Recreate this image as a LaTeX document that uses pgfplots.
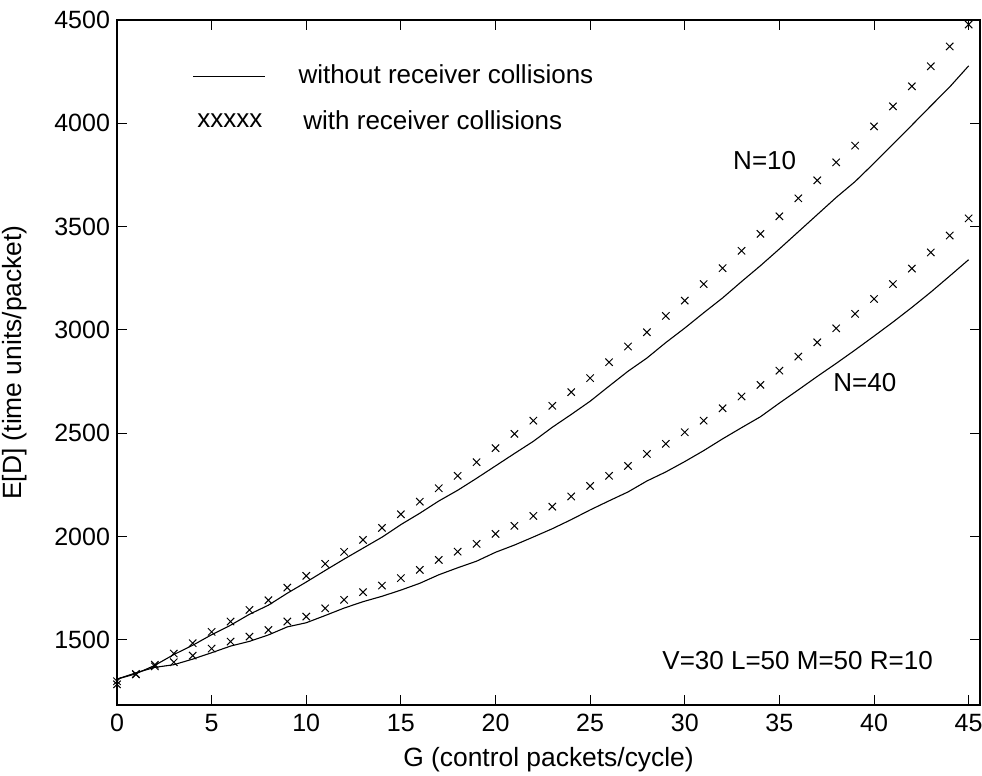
\documentclass[border=0pt]{standalone}
\usepackage{pgfplots}
\pgfplotsset{compat=1.18}
\usepackage{pgfplotstable}
\usepackage{fontspec}
\setmainfont{Liberation Sans}

\pgfplotstableread{
x y
0 1300
1 1335
2 1380
3 1434
4 1484
5 1539
6 1589
7 1645
8 1692
9 1753
10 1810
11 1868
12 1926
13 1984
14 2042
15 2108
16 2169
17 2234
18 2294
19 2360
20 2428
21 2497
22 2561
23 2633
24 2699
25 2767
26 2844
27 2920
28 2989
29 3068
30 3142
31 3222
32 3299
33 3383
34 3465
35 3550
36 3637
37 3724
38 3811
39 3892
40 3985
41 4082
42 4179
43 4276
44 4372
45 4478
}\tenwith

\pgfplotstableread{
x y
0 1310
1 1336
2 1377
3 1429
4 1474
5 1525
6 1571
7 1624
8 1668
9 1726
10 1780
11 1836
12 1891
13 1944
14 1997
15 2058
16 2113
17 2172
18 2224
19 2282
20 2342
21 2402
22 2461
23 2529
24 2591
25 2655
26 2728
27 2800
28 2864
29 2939
30 3009
31 3083
32 3155
33 3234
34 3311
35 3392
36 3475
37 3558
38 3641
39 3718
40 3807
41 3899
42 3991
43 4084
44 4176
45 4278
}\tenwithout

\pgfplotstableread{
x y
0 1285
1 1333
2 1372
3 1392
4 1424
5 1458
6 1492
7 1516
8 1548
9 1589
10 1613
11 1653
12 1694
13 1731
14 1763
15 1799
16 1839
17 1887
18 1927
19 1965
20 2013
21 2052
22 2100
23 2145
24 2194
25 2245
26 2294
27 2342
28 2400
29 2449
30 2505
31 2561
32 2621
33 2678
34 2734
35 2803
36 2871
37 2940
38 3008
39 3078
40 3150
41 3222
42 3297
43 3375
44 3457
45 3540
}\fortywith

\pgfplotstableread{
x y
0 1310
1 1341
2 1367
3 1380
4 1407
5 1438
6 1470
7 1493
8 1524
9 1563
10 1583
11 1618
12 1654
13 1685
14 1711
15 1741
16 1774
17 1815
18 1849
19 1881
20 1924
21 1959
22 1998
23 2038
24 2082
25 2129
26 2173
27 2216
28 2269
29 2313
30 2363
31 2416
32 2473
33 2527
34 2580
35 2646
36 2710
37 2775
38 2838
39 2903
40 2970
41 3038
42 3109
43 3183
44 3261
45 3340
}\fortywithout

\begin{document}
\begin{tikzpicture}
\begin{axis}[
  scale only axis, width=431.5pt, height=342.5pt,
  xmin=0, xmax=45.6, ymin=1185, ymax=4500,
  xtick={0,5,...,45}, ytick={1500,2000,...,4500},
  tick align=inside, major tick length=5pt,
  /pgf/number format/assume math mode=true,
  /pgf/number format/1000 sep={},
  tick label style={font=\fontsize{12.5}{15}\selectfont},
  xticklabel style={yshift=-1pt},
  xlabel={G (control packets/cycle)},
  ylabel={E[D] (time units/packet)},
  every axis x label/.style={at={(axis description cs:0.5,-0.0905)}, anchor=base, font=\fontsize{13.2}{16}\selectfont},
  every axis y label/.style={at={(axis description cs:-0.118,0.5)}, anchor=center, rotate=90, font=\fontsize{13.2}{16}\selectfont},
  axis line style={line width=0.6pt},
  every tick/.style={black, line width=0.5pt},
  clip=false,
]
\addplot[black, line width=0.55pt, no marks] table {\tenwithout};
\addplot[black, line width=0.55pt, no marks] table {\fortywithout};
\addplot[black, only marks, mark=x, mark size=2.6pt, mark options={line width=0.5pt}] table {\tenwith};
\addplot[black, only marks, mark=x, mark size=2.6pt, mark options={line width=0.5pt}] table {\fortywith};

\draw[black, line width=0.55pt] (axis cs:4.02,4227) -- (axis cs:7.82,4227);
\node[anchor=base west, inner sep=0pt, font=\fontsize{13}{16}\selectfont] at (axis cs:9.57,4191) {without receiver collisions};
\node[anchor=base west, inner sep=0pt, font=\fontsize{13}{16}\selectfont] at (axis cs:4.23,3978) {xxxxx};
\node[anchor=base west, inner sep=0pt, font=\fontsize{13}{16}\selectfont] at (axis cs:9.83,3969) {with receiver collisions};
\node[anchor=base west, inner sep=0pt, font=\fontsize{13}{16}\selectfont] at (axis cs:32.54,3778) {N=10};
\node[anchor=base west, inner sep=0pt, font=\fontsize{13}{16}\selectfont] at (axis cs:37.83,2702) {N=40};
\node[anchor=base west, inner sep=0pt, font=\fontsize{13}{16}\selectfont] at (axis cs:28.8,1358) {V=30 L=50 M=50 R=10};

\coordinate (sw) at (rel axis cs:0,0);
\coordinate (ne) at (rel axis cs:1,1);
\end{axis}
\pgfresetboundingbox
\path ([xshift=-58.5pt,yshift=-35.5pt]sw) rectangle ([xshift=1pt,yshift=10pt]ne);
\end{tikzpicture}
\end{document}
